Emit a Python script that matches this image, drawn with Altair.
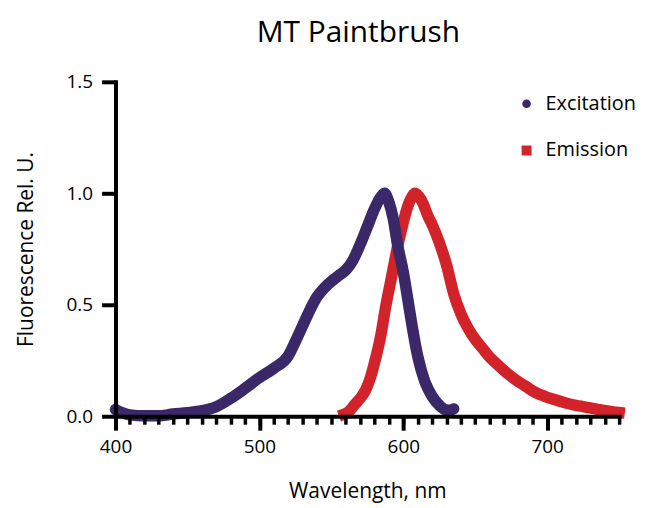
import altair as alt
import pandas as pd

ex_nm = [400, 405, 410, 420, 430, 440, 450, 460, 470, 480, 490, 500, 510, 520, 525, 530,
         535, 540, 545, 550, 555, 560, 565, 570, 575, 580, 584, 587, 590, 593, 596, 600,
         603, 606, 610, 615, 620, 625, 630, 633, 635]
ex_val = [0.03, 0.015, 0.006, 0.002, 0.002, 0.01, 0.016, 0.025, 0.043, 0.08, 0.125, 0.173,
          0.215, 0.27, 0.335, 0.405, 0.475, 0.535, 0.575, 0.605, 0.63, 0.655, 0.70, 0.77, 0.85,
          0.93, 0.98, 1.0, 0.96, 0.886, 0.77, 0.647, 0.53, 0.41, 0.27, 0.155, 0.09, 0.05,
          0.028, 0.027, 0.033]

em_nm = [559, 562, 566, 570, 574, 577, 580, 584, 588, 592, 596, 600, 603, 606, 608, 611,
         614, 617, 620, 625, 630, 635, 640, 645, 650, 655, 660, 665, 670, 675, 680, 685,
         690, 695, 700, 705, 710, 715, 720, 725, 730, 735, 740, 745, 750]
em_val = [0.01, 0.02, 0.05, 0.08, 0.12, 0.17, 0.24, 0.35, 0.5, 0.63, 0.76, 0.87, 0.94,
          0.985, 1.0, 0.985, 0.95, 0.9, 0.86, 0.78, 0.68, 0.55, 0.46, 0.395, 0.345, 0.305,
          0.265, 0.235, 0.205, 0.178, 0.155, 0.135, 0.113, 0.097, 0.085, 0.075, 0.065,
          0.056, 0.049, 0.043, 0.037, 0.031, 0.026, 0.021, 0.017]

series = ["Excitation", "Emission"]
colors = ["#3a2868", "#d2232a"]
shapes = ["circle", "square"]
sym_sizes = [75, 100]
major_ticks = [400, 500, 600, 700]
minor_ticks = list(range(400, 751, 10))
y_ticks = [0.0, 0.5, 1.0, 1.5]

ex_df = pd.DataFrame({"nm": ex_nm, "val": ex_val, "series": "Excitation"})
em_df = pd.DataFrame({"nm": em_nm, "val": em_val, "series": "Emission"})
all_df = pd.concat([em_df, ex_df])

FONT = "Open Sans"

xscale = alt.Scale(domain=[400, 750], nice=False, zero=False)
yscale = alt.Scale(domain=[0, 1.5], nice=False)
cscale = alt.Scale(domain=series, range=colors)

x_major = alt.X("nm:Q", scale=xscale, axis=alt.Axis(
    orient="bottom", values=major_ticks, title="Wavelength, nm", tickSize=14, tickWidth=4,
    domainWidth=4, domainColor="black", tickColor="black", labelPadding=7, labelFontSize=19,
    labelColor="black", labelFlush=False, titleFontSize=21, titleColor="black",
    titleFontWeight="normal", titlePadding=25, grid=False, labelFont=FONT, titleFont=FONT,
    zindex=2))
x_minor = alt.X("nm:Q", scale=xscale, axis=alt.Axis(
    orient="bottom", values=minor_ticks, title=None, labels=False, domain=False, tickSize=8,
    tickWidth=3.5, tickColor="black", grid=False, zindex=2))
x_none = alt.X("nm:Q", scale=xscale, axis=None)
y_enc = alt.Y("val:Q", scale=yscale, axis=alt.Axis(
    values=y_ticks, format=".1f", title="Fluorescence Rel. U.", tickSize=14, tickWidth=4,
    domainWidth=4, domainColor="black", tickColor="black", labelPadding=9, labelFontSize=19,
    labelColor="black", labelFlush=False, titleFontSize=21, titleColor="black",
    titleFontWeight="normal", titlePadding=30, grid=False, labelFont=FONT, titleFont=FONT,
    zindex=2))

em_line = alt.Chart(em_df).mark_line(
    strokeWidth=11.5, strokeCap="square", interpolate="monotone", color=colors[1]
).encode(x=x_minor, y=y_enc)

ex_line = alt.Chart(ex_df).mark_line(
    strokeWidth=11.5, strokeCap="round", strokeJoin="round", interpolate="monotone",
    color=colors[0]
).encode(x=x_major, y=y_enc)

legend_pts = alt.Chart(all_df).transform_filter("false").mark_point(
    filled=True, opacity=1
).encode(
    x=x_none,
    y=y_enc,
    color=alt.Color("series:N", scale=cscale, legend=alt.Legend(
        title=None, orient="none", legendX=403, legendY=12,
        labelFontSize=20, labelFont=FONT, labelColor="black",
        labelOffset=9, rowPadding=27, padding=0)),
    shape=alt.Shape("series:N", scale=alt.Scale(domain=series, range=shapes)),
    size=alt.Size("series:N", scale=alt.Scale(domain=series, range=sym_sizes)),
)

chart = alt.layer(em_line, ex_line, legend_pts).resolve_axis(x="independent").properties(
    width=506, height=336,
    padding={"left": 7, "top": 9, "right": 5, "bottom": 0},
    title=alt.TitleParams("MT Paintbrush", fontSize=30, font=FONT, fontWeight="normal",
                          color="black", anchor="middle", offset=25, dx=-9),
).configure_view(stroke=None).configure_axis(domainCap="square")

chart.save("out.html", embed_options={"renderer": "svg", "actions": False})
